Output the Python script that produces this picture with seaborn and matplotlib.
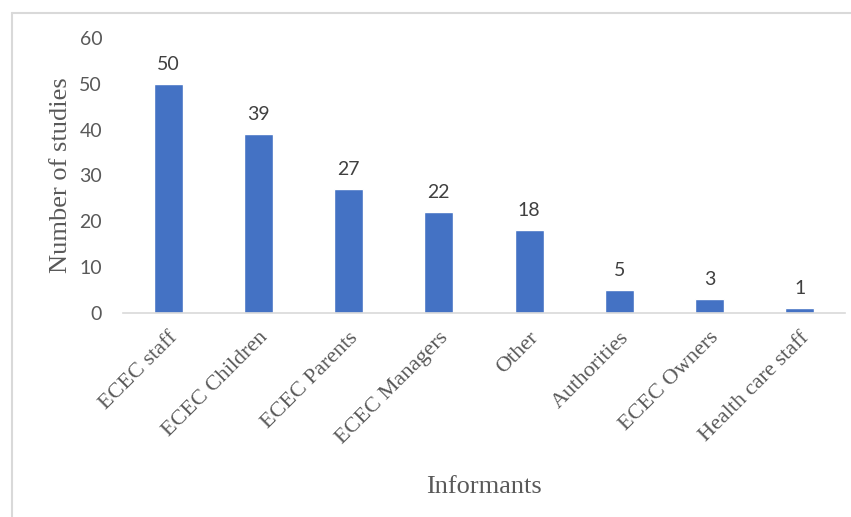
import numpy as np
import pandas as pd
import matplotlib
matplotlib.use('Agg')
import matplotlib.pyplot as plt
from matplotlib.lines import Line2D
import seaborn as sns

# Data
informants = ['ECEC staff', 'ECEC Children', 'ECEC Parents', 'ECEC Managers',
              'Other', 'Authorities', 'ECEC Owners', 'Health care staff']
n_studies = [50, 39, 27, 22, 18, 5, 3, 1]
y_ticks = [0, 10, 20, 30, 40, 50, 60]

df = pd.DataFrame({'Informants': informants, 'Number of studies': n_studies})

sns.set_style('white')
text_grey = '#595959'
serif = ['Liberation Serif', 'DejaVu Serif']
sans = ['Lato', 'DejaVu Sans']

fig = plt.figure(figsize=(8.51, 5.17), dpi=100)
ax = fig.add_axes([0.1445, 0.3946, 0.8485, 0.532])

sns.barplot(data=df, x='Informants', y='Number of studies', color='#4472C4',
            width=0.32, saturation=1, ax=ax)

# value labels above bars
for i, v in enumerate(n_studies):
    ax.annotate(str(v), (i, v), xytext=(0, 8), textcoords='offset points',
                ha='center', va='bottom', fontsize=14, color='#404040',
                family=sans)

ax.set_ylim(0, 60)
ax.set_xlim(-0.5, len(informants) - 0.5)
ax.set_yticks(y_ticks)
ax.set_yticklabels([str(t) for t in y_ticks], fontsize=14, color=text_grey, family=sans)
ax.set_xticks(range(len(informants)))
ax.set_xticklabels(informants, rotation=45, ha='right', rotation_mode='anchor',
                   fontsize=16, color=text_grey, family=serif)
ax.tick_params(axis='both', length=0)
ax.tick_params(axis='y', pad=15)
ax.tick_params(axis='x', pad=11)

ax.set_xlabel('Informants', fontsize=19, color=text_grey, family=serif, labelpad=20)
ax.set_ylabel('Number of studies', fontsize=19, color=text_grey, family=serif, labelpad=5)

for side in ['top', 'right', 'left']:
    ax.spines[side].set_visible(False)
ax.spines['bottom'].set_color('#d9d9d9')
ax.spines['bottom'].set_linewidth(1.2)

# light border of the chart frame (top and left edges visible)
x0, y0 = 12 / 851, 1 - 13 / 517
fig.add_artist(Line2D([x0, 1], [y0, y0], transform=fig.transFigure, color='#d9d9d9', lw=1.5))
fig.add_artist(Line2D([x0, x0], [0, y0], transform=fig.transFigure, color='#d9d9d9', lw=1.5))

fig.savefig('out.png', dpi=100)
